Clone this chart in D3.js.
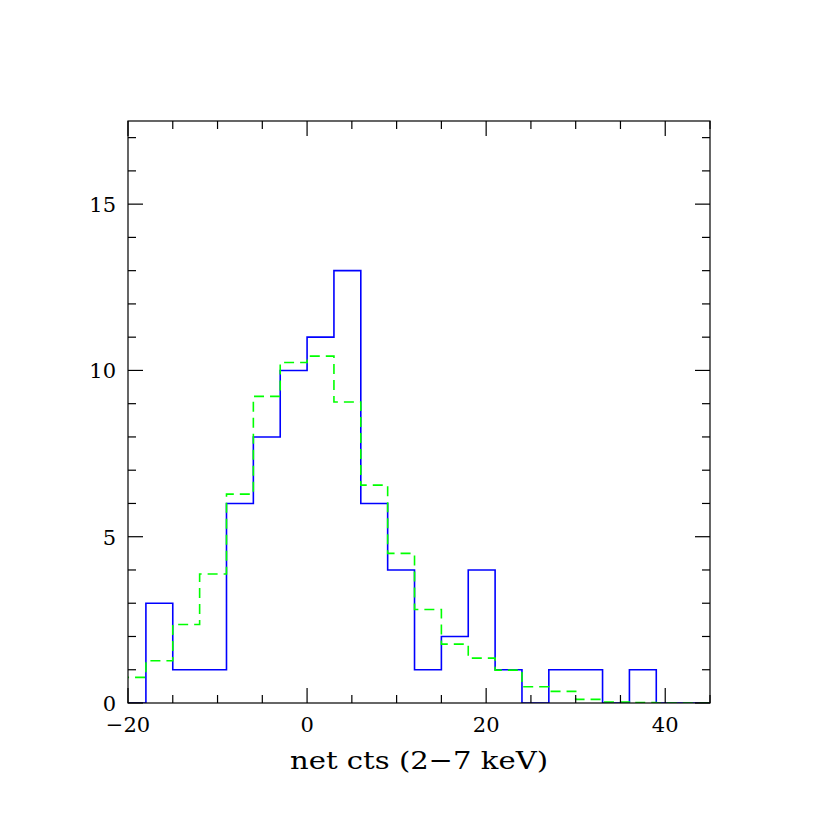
<!DOCTYPE html>
<html><head><meta charset="utf-8">
<script src="https://cdn.jsdelivr.net/npm/d3@7"></script>
<style>body{margin:0;background:#fff}</style>
</head><body>
<svg id="c" width="830" height="830"></svg>
<script>
// bin edges (width 3)
const binStarts = [-21,-18,-15,-12,-9,-6,-3,0,3,6,9,12,15,18,21,24,27,30,33,36,39,42];
const observed = [0,3,1,1,6,8,10,11,13,6,4,1,2,4,1,0,1,1,0,1,0,0];
const model = [0.77,1.27,2.36,3.88,6.28,9.22,10.24,10.43,9.05,6.55,4.5,2.81,1.77,1.35,0.99,0.49,0.35,0.11,0.03,0.01,0,0];
const binWidth = 3;
const xTicks = [-20,0,20,40];
const yTicks = [0,5,10,15];
const xLabel = "net cts (2\u22127 keV)";

const svg = d3.select("#c");
const L=128,R=710,T=121,B=703;
const x = d3.scaleLinear().domain([-20,45]).range([L,R]);
const y = d3.scaleLinear().domain([0,17.5]).range([B,T]);

svg.append("defs").append("clipPath").attr("id","clip")
  .append("rect").attr("x",L).attr("y",T).attr("width",R-L).attr("height",B-T);

function stepPath(vals){
  const pts=[];
  vals.forEach((v,i)=>{
    pts.push([binStarts[i],v]);
    pts.push([binStarts[i]+binWidth,v]);
  });
  return d3.line().x(d=>x(d[0])).y(d=>y(d[1]))(pts);
}

const g = svg.append("g").attr("clip-path","url(#clip)");
g.append("path").attr("d",stepPath(observed)).attr("fill","none")
  .attr("stroke","#0000ff").attr("stroke-width",1.6);
g.append("path").attr("d",stepPath(model)).attr("fill","none")
  .attr("stroke","#00ff00").attr("stroke-width",1.6).attr("stroke-dasharray","10,6");

// frame
svg.append("rect").attr("x",L).attr("y",T).attr("width",R-L).attr("height",B-T)
  .attr("fill","none").attr("stroke","#000").attr("stroke-width",1.2);

const font="'DejaVu Serif','Liberation Serif',serif";
const xMinor = d3.range(-20,46,5);
const tg = svg.append("g").attr("stroke","#000").attr("stroke-width",1.2);
xMinor.forEach(v=>{
  const len = (v%20===0)?15:8;
  tg.append("line").attr("x1",x(v)).attr("x2",x(v)).attr("y1",B).attr("y2",B-len);
  tg.append("line").attr("x1",x(v)).attr("x2",x(v)).attr("y1",T).attr("y2",T+len);
});
const yMinor = d3.range(0,18,1);
yMinor.forEach(v=>{
  const len = (v%5===0)?15:8;
  tg.append("line").attr("y1",y(v)).attr("y2",y(v)).attr("x1",L).attr("x2",L+len);
  tg.append("line").attr("y1",y(v)).attr("y2",y(v)).attr("x1",R).attr("x2",R-len);
});

const fmt = v => v<0 ? "\u2212"+Math.abs(v) : String(v);
svg.append("g").selectAll("text").data(xTicks).join("text")
  .attr("x",d=>x(d)).attr("y",732).attr("text-anchor","middle")
  .attr("font-family",font).attr("font-size",21).text(fmt);
svg.append("g").selectAll("text").data(yTicks).join("text")
  .attr("x",116).attr("y",d=>y(d)+8).attr("text-anchor","end")
  .attr("font-family",font).attr("font-size",21).text(fmt);
svg.append("text").attr("x",290).attr("y",769)
  .attr("font-family",font).attr("font-size",25)
  .attr("textLength",258).attr("lengthAdjust","spacingAndGlyphs").text(xLabel);
</script>
</body></html>
